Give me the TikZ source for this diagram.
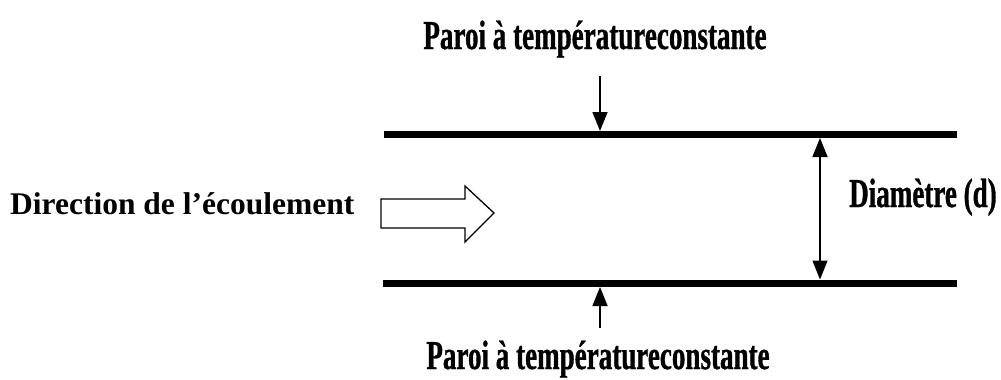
\documentclass[tikz,border=0pt]{standalone}
\usepackage{fontspec}
\setmainfont{Liberation Serif}
\newfontfamily\condfont[FakeStretch=0.66,FakeBold=0.8]{Liberation Serif}
\usetikzlibrary{arrows.meta}
\begin{document}
\begin{tikzpicture}[x=1pt,y=-1pt,
  wall/.style={line width=7pt},
  pointer/.style={line width=1.5pt,-{Triangle[length=19pt,width=15pt]}},
  dimline/.style={line width=1.5pt,{Triangle[length=19pt,width=15pt]}-{Triangle[length=19pt,width=15pt]}},
  condlabel/.style={font=\condfont\bfseries\fontsize{41}{44}\selectfont,inner sep=0pt},
  plainlabel/.style={font=\bfseries\fontsize{31.5}{36}\selectfont,inner sep=0pt},
  blockarrow/.style={draw,line width=1.3pt,fill=white}]
\useasboundingbox (0,0) rectangle (1001,380);
% walls
\coordinate (tw1) at (384,134.5);
\coordinate (tw2) at (957,134.5);
\coordinate (bw1) at (383,283);
\coordinate (bw2) at (957,283);
\draw[wall] (tw1) -- (tw2);
\draw[wall] (bw1) -- (bw2);
% labels
\node[condlabel,anchor=base] (ttop) at (595,49) {Paroi à températureconstante};
\node[condlabel,anchor=base] (tbot) at (598,369) {Paroi à températureconstante};
\node[condlabel,anchor=base west] (tdiam) at (849,207) {Diamètre (d)};
\node[plainlabel,anchor=base west] (tdir) at (10,214) {Direction de l’écoulement};
% pointers
\coordinate (a1s) at (600,76);
\coordinate (a1e) at (600,131);
\coordinate (a2s) at (600,328);
\coordinate (a2e) at (600,287);
\draw[pointer] (a1s) -- (a1e);
\draw[pointer] (a2s) -- (a2e);
% diameter
\coordinate (d1) at (820,138);
\coordinate (d2) at (820,279.5);
\draw[dimline] (d1) -- (d2);
% block arrow
\draw[blockarrow] (381,199) -- (465,199) -- (465,186) -- (494,213) -- (465,242) -- (465,228) -- (381,228) -- cycle;
\end{tikzpicture}
\end{document}
